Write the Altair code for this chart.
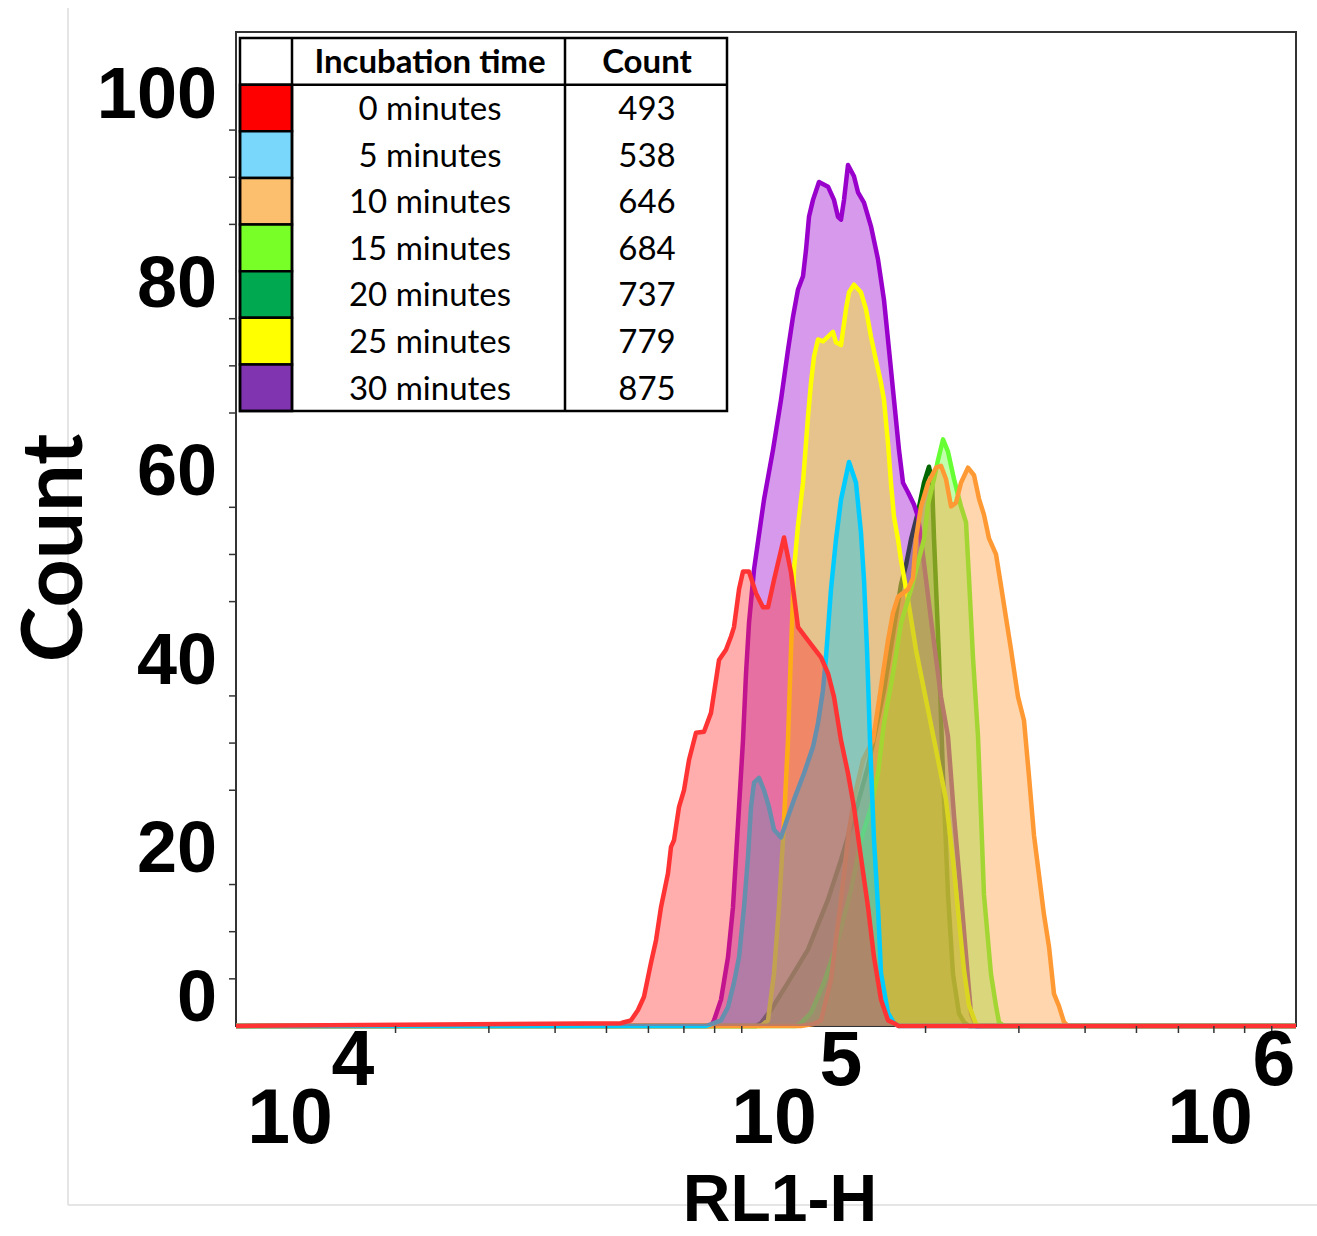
import altair as alt
import numpy as np
import pandas as pd

# ---------------- legend table values ----------------
times = ["0 minutes", "5 minutes", "10 minutes", "15 minutes", "20 minutes", "25 minutes", "30 minutes"]
event_counts = [493, 538, 646, 684, 737, 779, 875]
swatch_colors = ["#ff0000", "#79d7fb", "#fbbf6e", "#78ff28", "#00a84f", "#ffff00", "#8034b0"]
line_colors = ["#ff3333", "#00ccff", "#ff9933", "#66ff33", "#006600", "#ffff00", "#9900cc"]

# ---------------- histogram traces: log10(RL1-H) and Count ----------------
lx_0 = [4.0, 4.7264, 4.7321, 4.7453, 4.7585, 4.7698, 4.7830, 4.7925, 4.8019, 4.8151, 4.8208, 4.8264,
        4.8358, 4.8453, 4.8547, 4.8679, 4.8830, 4.8962, 4.9057, 4.9113, 4.9245, 4.9340, 4.9396, 4.9491,
        4.9566, 4.9679, 4.9811, 4.9943, 5.0038, 5.0151, 5.0340, 5.0472, 5.0604, 5.0792, 5.1038, 5.1170,
        5.1283, 5.1415, 5.1547, 5.1660, 5.1792, 5.1925, 5.2038, 5.2170, 5.2302, 5.2415, 5.2500, 6.0]
n_0 = [0, 0.3, 0.4, 0.6, 1.7, 3.1, 6.7, 9.1, 12.6, 16.2, 19.0, 19.7,
       23.2, 25.0, 28.2, 31.1, 31.2, 33.2, 36.7, 38.8, 39.9, 41.3, 42.3, 46.3,
       48.2, 48.2, 45.9, 44.4, 44.4, 47.3, 51.8, 48.1, 42.3, 40.9, 39.1, 37.4,
       34.9, 30.3, 26.8, 23.2, 17.9, 12.6, 7.3, 2.8, 0.6, 0.3, 0, 0]

lx_5 = [4.0, 4.8868, 4.9019, 4.9151, 4.9283, 4.9396, 4.9491, 4.9585, 4.9660, 4.9717, 4.9774, 4.9868,
        4.9962, 5.0057, 5.0151, 5.0283, 5.0415, 5.0528, 5.0717, 5.0887, 5.0981, 5.1075, 5.1132, 5.1226,
        5.1321, 5.1415, 5.1566, 5.1698, 5.1792, 5.1849, 5.1906, 5.1962, 5.2038, 5.2113, 5.2170, 5.2302,
        5.2415, 5.2509, 6.0]
n_5 = [0, 0, 0.3, 0.6, 2.0, 4.6, 7.3, 12.6, 17.9, 23.2, 25.8, 26.3,
       25.0, 23.2, 20.8, 20.0, 22.2, 24.0, 26.8, 29.6, 32.1, 35.6, 39.1, 46.3,
       51.6, 55.8, 59.8, 57.6, 52.3, 47.3, 39.9, 30.3, 19.7, 12.6, 5.6, 1.4,
       0.3, 0, 0]

lx_10 = [4.0, 5.0660, 5.0887, 5.1038, 5.1226, 5.1415, 5.1566, 5.1698, 5.1830, 5.2019, 5.2113, 5.2208,
         5.2302, 5.2396, 5.2491, 5.2679, 5.2774, 5.2830, 5.2925, 5.3057, 5.3208, 5.3302, 5.3396, 5.3491,
         5.3585, 5.3679, 5.3811, 5.3925, 5.4019, 5.4113, 5.4208, 5.4340, 5.4434, 5.4528, 5.4623, 5.4755,
         5.4868, 5.4962, 5.5057, 5.5151, 5.5245, 5.5340, 5.5434, 5.5528, 5.5623, 5.5698, 6.0]
n_10 = [0, 0, 0.2, 0.6, 4.9, 13.4, 20.8, 25.0, 28.2, 30.3, 33.8, 37.4,
        40.9, 43.8, 45.5, 46.3, 47.5, 51.7, 55.1, 57.6, 59.2, 59.4, 58.0, 55.1,
        55.5, 57.6, 59.2, 58.4, 55.9, 54.2, 51.7, 50.0, 46.7, 43.3, 39.9, 34.9,
        32.4, 26.5, 20.2, 16.0, 11.8, 8.4, 3.4, 2.1, 0.4, 0, 0]

lx_15 = [4.0, 5.0566, 5.0660, 5.0849, 5.1094, 5.1358, 5.1604, 5.1792, 5.1981, 5.2113, 5.2226, 5.2396,
         5.2547, 5.2736, 5.2981, 5.3057, 5.3170, 5.3245, 5.3340, 5.3434, 5.3547, 5.3679, 5.3774, 5.3830,
         5.3906, 5.4000, 5.4057, 5.4113, 5.4245, 5.4340, 5.4396, 5.4491, 6.0]
n_15 = [0, 0, 0.3, 1.4, 4.6, 9.1, 14.4, 19.7, 23.2, 26.8, 32.1, 37.4,
        42.7, 46.3, 51.6, 55.3, 58.0, 60.0, 62.2, 60.9, 58.0, 55.1, 53.4, 47.5,
        39.0, 30.7, 22.3, 13.9, 5.5, 2.1, 0.4, 0, 0]

lx_20 = [4.0, 4.9811, 4.9906, 5.0094, 5.0415, 5.0792, 5.1170, 5.1415, 5.1660, 5.1925, 5.2226, 5.2415,
         5.2547, 5.2642, 5.2736, 5.2868, 5.2981, 5.3075, 5.3132, 5.3170, 5.3264, 5.3340, 5.3434, 5.3528,
         5.3642, 5.3736, 5.3830, 6.0]
n_20 = [0, 0, 0.3, 1.7, 4.6, 8.1, 13.4, 17.6, 22.2, 27.5, 35.6, 42.2,
        46.8, 48.9, 51.6, 54.5, 57.6, 59.3, 57.9, 51.7, 39.0, 26.5, 13.9, 5.5,
        1.3, 0.4, 0, 0]

lx_25 = [4.0, 4.9906, 5.0038, 5.0151, 5.0245, 5.0321, 5.0415, 5.0472, 5.0528, 5.0604, 5.0698, 5.0792,
         5.0849, 5.0906, 5.0981, 5.1075, 5.1170, 5.1264, 5.1321, 5.1415, 5.1509, 5.1566, 5.1660, 5.1792,
         5.1887, 5.1981, 5.2075, 5.2170, 5.2226, 5.2302, 5.2358, 5.2415, 5.2491, 5.2547, 5.2679, 5.2830,
         5.3019, 5.3208, 5.3396, 5.3528, 5.3642, 5.3736, 5.3830, 5.3962, 5.4057, 6.0]
n_25 = [0, 0, 0.6, 5.6, 12.6, 19.7, 30.3, 39.9, 48.4, 53.1, 57.6, 64.6,
        68.2, 71.0, 72.8, 72.6, 73.1, 73.6, 72.5, 72.2, 76.0, 77.8, 78.6, 77.8,
        76.0, 73.1, 70.6, 68.2, 66.4, 61.8, 57.6, 54.0, 51.6, 49.4, 45.2, 39.9,
        34.6, 29.3, 24.0, 17.6, 11.2, 5.9, 2.2, 0.2, 0, 0]

lx_30 = [4.0, 4.8962, 4.9019, 4.9151, 4.9283, 4.9377, 4.9434, 4.9491, 4.9566, 4.9623, 4.9679, 4.9774,
         4.9962, 5.0132, 5.0283, 5.0415, 5.0509, 5.0604, 5.0698, 5.0755, 5.0811, 5.0887, 5.1000, 5.1170,
         5.1283, 5.1358, 5.1415, 5.1472, 5.1547, 5.1660, 5.1736, 5.1849, 5.1981, 5.2113, 5.2226, 5.2321,
         5.2415, 5.2509, 5.2585, 5.2679, 5.2792, 5.2868, 5.2925, 5.3113, 5.3302, 5.3434, 5.3547, 5.3679,
         5.3774, 5.3868, 5.3962, 6.0]
n_30 = [0, 0, 0.6, 2.8, 7.3, 12.6, 17.9, 23.2, 30.3, 37.4, 42.7, 48.4,
        55.8, 61.1, 66.4, 71.7, 75.2, 78.1, 79.5, 82.3, 85.8, 87.6, 89.5, 89.0,
        87.6, 85.8, 85.5, 87.6, 91.3, 90.1, 88.4, 87.3, 84.8, 81.3, 77.0, 71.7,
        66.4, 61.1, 57.6, 56.6, 55.3, 54.0, 51.6, 43.1, 34.9, 30.7, 22.3, 13.9,
        7.5, 1.3, 0, 0]

log_x = [lx_0, lx_5, lx_10, lx_15, lx_20, lx_25, lx_30]
counts = [n_0, n_5, n_10, n_15, n_20, n_25, n_30]
draw_order = [4, 6, 5, 3, 2, 1, 0]   # back to front

# ---------------- axis values ----------------
y_major = [0, 20, 40, 60, 80, 100]
y_minor = [5, 10, 15, 25, 30, 35, 45, 50, 55, 65, 70, 75, 85, 90, 95]
x_major = [1e4, 1e5, 1e6]
x_minor = [2e4, 3e4, 4e4, 5e4, 6e4, 7e4, 8e4, 9e4, 2e5, 3e5, 4e5, 5e5, 6e5, 7e5, 8e5, 9e5]
x_exponents = ["4", "5", "6"]

# ---------------- layout ----------------
W, H = 1060, 994
base_dx = [54, 8, -86]
exp_dx = [117, 75, -22]

xs = alt.Scale(type="log", domain=[1e4, 1e6], nice=False)
ys = alt.Scale(domain=[0, 105.4], nice=False, zero=False)
xaxis = alt.Axis(values=x_major, labels=False, title=None, tickSize=9, tickWidth=1.5,
                 tickColor="#333333", domainColor="#444444", domainWidth=2.5, grid=False)
yaxis = alt.Axis(values=y_major, labels=False, title=None, tickSize=10, tickWidth=1.5,
                 tickColor="#333333", domainColor="#444444", domainWidth=2.5, grid=False)

one = pd.DataFrame({"a": [0]})

frame_layers = [
    alt.Chart(one).mark_rule(color="#dcdcdc", strokeWidth=1.5).encode(
        x=alt.value(-168), y=alt.value(-24), y2=alt.value(1173)),
    alt.Chart(one).mark_rule(color="#dcdcdc", strokeWidth=1.5).encode(
        x=alt.value(-168), x2=alt.value(1081), y=alt.value(1173)),
]

hist_layers = []
for i in draw_order:
    df = pd.DataFrame({"rl1h": 10 ** np.array(log_x[i]), "count": counts[i]})
    base = alt.Chart(df).encode(
        x=alt.X("rl1h:Q", scale=xs, axis=xaxis),
        y=alt.Y("count:Q", scale=ys, axis=yaxis, stack=None),
    )
    hist_layers.append(base.mark_area(color=line_colors[i], opacity=1, fillOpacity=0.4,
                                      interpolate="linear"))
    hist_layers.append(base.mark_line(color=line_colors[i], strokeWidth=4.5,
                                      strokeJoin="round", interpolate="linear"))

tick_layers = [
    alt.Chart(pd.DataFrame({"v": x_minor})).mark_rule(color="#333333", strokeWidth=1.5).encode(
        x=alt.X("v:Q", scale=xs, axis=None), y=alt.value(H), y2=alt.value(H + 7)),
    alt.Chart(pd.DataFrame({"v": y_minor})).mark_rule(color="#333333", strokeWidth=1.5).encode(
        y=alt.Y("v:Q", scale=ys, axis=None), x=alt.value(-7), x2=alt.value(0)),
]

lab_font = dict(font="Liberation Sans", fontWeight="bold", color="black")
ylab_layers = [
    alt.Chart(pd.DataFrame({"v": y_major[1:]})).mark_text(
        align="right", baseline="alphabetic", dy=35, fontSize=72, **lab_font).encode(
        y=alt.Y("v:Q", scale=ys, axis=None), x=alt.value(-19), text=alt.Text("v:Q")),
    alt.Chart(pd.DataFrame({"v": y_major[:1]})).mark_text(
        align="right", baseline="alphabetic", dy=-5, fontSize=72, **lab_font).encode(
        y=alt.Y("v:Q", scale=ys, axis=None), x=alt.value(-19), text=alt.Text("v:Q")),
]

xlab_layers = []
for v, e, d1, d2 in zip(x_major, x_exponents, base_dx, exp_dx):
    dfl = pd.DataFrame({"v": [v], "base": ["10"], "exp": [e]})
    xlab_layers.append(alt.Chart(dfl).mark_text(
        align="center", baseline="alphabetic", dx=d1, dy=117, fontSize=77, **lab_font).encode(
        x=alt.X("v:Q", scale=xs, axis=None), y=alt.value(H), text="base:N"))
    xlab_layers.append(alt.Chart(dfl).mark_text(
        align="center", baseline="alphabetic", dx=d2, dy=59, fontSize=77, **lab_font).encode(
        x=alt.X("v:Q", scale=xs, axis=None), y=alt.value(H), text="exp:N"))

title_layers = [
    alt.Chart(pd.DataFrame({"t": ["Count"]})).mark_text(
        angle=270, align="center", baseline="alphabetic", font="Lato", fontWeight="bold",
        fontSize=84, color="black").encode(x=alt.value(-154), y=alt.value(516), text="t:N"),
    alt.Chart(pd.DataFrame({"t": ["RL1-H"]})).mark_text(
        align="center", baseline="alphabetic", font="Liberation Sans Narrow, Liberation Sans",
        fontWeight="bold", fontSize=66, color="black").encode(
        x=alt.value(544), y=alt.value(1189), text="t:N"),
]

main = alt.layer(*frame_layers, *hist_layers, *tick_layers, *ylab_layers, *xlab_layers, *title_layers)

# ---------------- legend table ----------------
ts = alt.Scale(domain=[0, 8], range=[6, 379], nice=False, zero=False)
rows = pd.DataFrame({"time": times, "n": [str(c) for c in event_counts],
                     "color": swatch_colors, "r0": list(range(1, 8))})
rows["r1"] = rows["r0"] + 1
rows["rm"] = rows["r0"] + 0.5
whole = pd.DataFrame({"r0": [0], "r1": [8]})
head = pd.DataFrame({"r0": [0], "r1": [1], "rm": [0.5], "a": ["Incubation time"], "b": ["Count"]})

T_LEFT, T_SW, T_MID, T_RIGHT = 4, 56, 329, 491
txt = dict(font="Lato", fontSize=33, color="black", baseline="alphabetic", align="center", dy=12)

table = alt.layer(
    alt.Chart(whole).mark_rect(fill="white").encode(
        x=alt.value(T_LEFT), x2=alt.value(T_RIGHT),
        y=alt.Y("r0:Q", scale=ts, axis=None), y2="r1:Q"),
    alt.Chart(rows).mark_rect(stroke="black", strokeWidth=2.5).encode(
        x=alt.value(T_LEFT), x2=alt.value(T_SW),
        y=alt.Y("r0:Q", scale=ts, axis=None), y2="r1:Q",
        fill=alt.Fill("color:N", scale=None)),
    alt.Chart(head).mark_rule(color="black", strokeWidth=2.5).encode(
        x=alt.value(T_LEFT), x2=alt.value(T_RIGHT), y=alt.Y("r1:Q", scale=ts, axis=None)),
    alt.Chart(whole).mark_rule(color="black", strokeWidth=2.5).encode(
        x=alt.value(T_SW), y=alt.Y("r0:Q", scale=ts, axis=None), y2="r1:Q"),
    alt.Chart(whole).mark_rule(color="black", strokeWidth=2.5).encode(
        x=alt.value(T_MID), y=alt.Y("r0:Q", scale=ts, axis=None), y2="r1:Q"),
    alt.Chart(whole).mark_rect(fillOpacity=0, stroke="black", strokeWidth=2.5).encode(
        x=alt.value(T_LEFT), x2=alt.value(T_RIGHT),
        y=alt.Y("r0:Q", scale=ts, axis=None), y2="r1:Q"),
    alt.Chart(head).mark_text(fontWeight="bold", **txt).encode(
        x=alt.value(194), y=alt.Y("rm:Q", scale=ts, axis=None), text="a:N"),
    alt.Chart(head).mark_text(fontWeight="bold", **txt).encode(
        x=alt.value(411), y=alt.Y("rm:Q", scale=ts, axis=None), text="b:N"),
    alt.Chart(rows).mark_text(**txt).encode(
        x=alt.value(194), y=alt.Y("rm:Q", scale=ts, axis=None), text="time:N"),
    alt.Chart(rows).mark_text(**txt).encode(
        x=alt.value(411), y=alt.Y("rm:Q", scale=ts, axis=None), text="n:N"),
)

chart = (
    alt.layer(main, table)
    .resolve_scale(y="independent")
    .properties(width=W, height=H,
                padding={"left": 236, "top": 32, "right": 21, "bottom": 210},
                autosize=alt.AutoSizeParams(type="none"),
                background="white")
    .configure_view(stroke="#333333", strokeWidth=2)
)

chart.save("out.html", embed_options={"renderer": "svg", "actions": False})
